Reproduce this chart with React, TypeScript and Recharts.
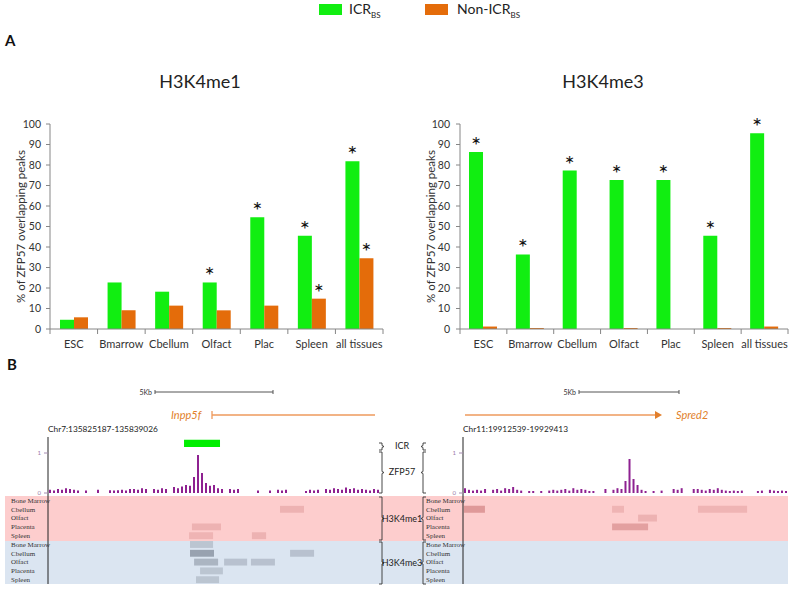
import React from 'react';
import { BarChart, Bar, XAxis, YAxis, LabelList, ComposedChart, ReferenceArea } from 'recharts';

// ---------- Panel A data ----------
const tissues = ['ESC', 'Bmarrow', 'Cbellum', 'Olfact', 'Plac', 'Spleen', 'all tissues'];
const me1Icr = [4.5, 22.7, 18.2, 22.7, 54.5, 45.5, 81.8];
const me1NonIcr = [5.7, 9.1, 11.4, 9.1, 11.4, 14.8, 34.5];
const me1IcrSig = [false, false, false, true, true, true, true];
const me1NonIcrSig = [false, false, false, false, false, true, true];
const me3Icr = [86.4, 36.4, 77.3, 72.7, 72.7, 45.5, 95.5];
const me3NonIcr = [1.2, 0.5, 0, 0.5, 0, 0.5, 1.2];
const me3IcrSig = [true, true, true, true, true, true, true];
const me3NonIcrSig = [false, false, false, false, false, false, false];
const pctTicks = [0, 10, 20, 30, 40, 50, 60, 70, 80, 90, 100];

// ---------- Panel B data ----------
const rowNames = ['Bone Marrow', 'Cbellum', 'Olfact', 'Placenta', 'Spleen'];
const leftRegion = 'Chr7:135825187-135839026';
const leftSpanKb = 13.839;
const rightRegion = 'Chr11:19912539-19929413';
const rightSpanKb = 16.874;

// ZFP57 ChIP signal, equal bins across the region
const leftSignal = [
  0.08, 0.06, 0.1, 0.08, 0.12, 0.1, 0.08, 0.06, 0, 0.06, 0, 0, 0.08, 0, 0, 0.07, 0.06, 0.07, 0.08, 0.06,
  0.1, 0.1, 0.08, 0.12, 0.1, 0, 0.1, 0.08, 0.12, 0.1, 0, 0.15, 0.12, 0.16, 0.2, 0.18, 0.4, 0.95, 0.5, 0.25,
  0.18, 0.2, 0.12, 0.1, 0, 0.1, 0.08, 0.1, 0, 0, 0, 0, 0.06, 0, 0, 0.06, 0, 0.08, 0.06, 0.08,
  0, 0, 0, 0, 0.05, 0.08, 0.06, 0.08, 0, 0.1, 0.08, 0.12, 0.1, 0.08, 0.14, 0.1, 0.12, 0.08, 0.1, 0.08,
  0.06, 0.1, 0.08,
];
const rightSignal = [
  0.12, 0.08, 0.06, 0.08, 0.06, 0.1, 0, 0.08, 0.1, 0.06, 0.12, 0.1, 0.15, 0.08, 0.06, 0, 0.05, 0.05, 0, 0.05,
  0, 0.06, 0.08, 0.06, 0.08, 0.1, 0.06, 0.12, 0.08, 0.1, 0.08, 0.05, 0.05, 0, 0, 0.1, 0, 0.08, 0.12, 0.1,
  0.3, 0.85, 0.35, 0.2, 0.08, 0.05, 0, 0.05, 0, 0.06, 0, 0, 0.1, 0.08, 0.12, 0, 0, 0.1, 0.1, 0.08,
  0.06, 0.1, 0.08, 0.12, 0.08, 0.06, 0.05, 0.06, 0.05, 0.06, 0, 0, 0, 0.05, 0.06, 0, 0.08, 0.06, 0.05, 0.06,
  0.05,
];
// ICR intervals (kb from region start)
const leftIcr = [[5.67, 7.17]];
const rightIcr: number[][] = [];
// Histone peak blocks: [row, startKb, endKb, score]; rows 0-4 H3K4me1, 5-9 H3K4me3
const leftBlocks = [
  [1, 9.67, 10.67, 0.35],
  [3, 6.0, 7.21, 0.35],
  [4, 5.88, 6.88, 0.3],
  [4, 8.5, 9.09, 0.35],
  [5, 5.92, 6.88, 0.3],
  [6, 5.92, 6.92, 0.85],
  [6, 10.09, 11.09, 0.35],
  [7, 6.09, 7.09, 0.55],
  [7, 7.34, 8.3, 0.35],
  [7, 8.46, 9.46, 0.35],
  [8, 6.34, 7.29, 0.3],
  [9, 6.17, 7.13, 0.3],
];
const rightBlocks = [
  [1, 0.05, 1.14, 0.85],
  [1, 7.74, 8.36, 0.3],
  [1, 12.2, 14.75, 0.3],
  [2, 9.09, 10.07, 0.35],
  [3, 7.74, 9.61, 0.7],
];

const FONT = 'Lato, "Open Sans", sans-serif';
const GREEN = '#11ee11';
const ORANGE = '#e46c0a';
const AXIS = '#868686';

// ---------- Panel A components ----------
const BandTick = (props: any) => {
  const { x, y, payload, index, visibleTicksCount, band } = props;
  const axisY = y - 13;
  const half = band / 2;
  return (
    <g>
      <line x1={x - half} x2={x - half} y1={axisY} y2={axisY + 5} stroke={AXIS} />
      {index === visibleTicksCount - 1 && (
        <line x1={x + half} x2={x + half} y1={axisY} y2={axisY + 5} stroke={AXIS} />
      )}
      <text x={x} y={axisY + 19} textAnchor="middle" fontSize={11} fill="#333" fontFamily={FONT}>
        {payload.value}
      </text>
    </g>
  );
};

const YTitle = (props: any) => {
  const { viewBox, cx } = props;
  const cy = viewBox.y + viewBox.height / 2;
  return (
    <text
      x={cx}
      y={cy}
      transform={`rotate(-90 ${cx} ${cy})`}
      textAnchor="middle"
      dominantBaseline="central"
      fontSize={11.5}
      fill="#333"
      fontFamily={FONT}
    >
      % of ZFP57 overlapping peaks
    </text>
  );
};

const makeStar = (sig: boolean[]) => (props: any) => {
  const { x, y, width, index } = props;
  if (!sig[index]) return null;
  return (
    <text x={x + width / 2} y={y + 2} textAnchor="middle" fontSize={24} fill="#111" fontFamily={FONT}>
      *
    </text>
  );
};

function PeakChart(p: {
  icr: number[]; non: number[]; icrSig: boolean[]; nonSig: boolean[];
  width: number; yW: number; right: number; tickMargin: number; titleX: number;
}) {
  const data = tissues.map((t, i) => ({ tissue: t, icr: p.icr[i], non: p.non[i] }));
  const plotW = p.width - p.yW - p.right;
  return (
    <BarChart
      width={p.width}
      height={260}
      data={data}
      margin={{ top: 24, right: p.right, bottom: 1, left: 0 }}
      barGap={0}
    >
      <XAxis
        dataKey="tissue"
        height={30}
        axisLine={{ stroke: AXIS }}
        tickLine={false}
        tickSize={5}
        tickMargin={8}
        interval={0}
        tick={(tp: any) => <BandTick {...tp} band={plotW / tissues.length} />}
      />
      <YAxis
        width={p.yW}
        domain={[0, 100]}
        ticks={pctTicks}
        interval={0}
        axisLine={{ stroke: AXIS }}
        tickLine={{ stroke: AXIS }}
        tickSize={4}
        tickMargin={p.tickMargin}
        tick={{ fontSize: 10.5, fill: '#333', fontFamily: FONT }}
        label={<YTitle cx={p.titleX} />}
      />
      <Bar dataKey="icr" name="ICR" fill={GREEN} barSize={14} isAnimationActive={false}>
        <LabelList dataKey="icr" content={makeStar(p.icrSig)} />
      </Bar>
      <Bar dataKey="non" name="Non-ICR" fill={ORANGE} barSize={14} isAnimationActive={false}>
        <LabelList dataKey="non" content={makeStar(p.nonSig)} />
      </Bar>
    </BarChart>
  );
}

// ---------- Panel B components ----------
function SignalTrack(p: { axisX: number; plotW: number; span: number; values: number[]; icr: number[][] }) {
  const binKb = p.span / p.values.length;
  const data = p.values.map((v, i) => ({ pos: (i + 0.5) * binKb, v }));
  const yW = 18;
  return (
    <div style={{ position: 'absolute', left: p.axisX - yW, top: 437 }}>
      <ComposedChart width={yW + p.plotW} height={59} data={data} margin={{ top: 0, right: 0, bottom: 0, left: 0 }}>
        <XAxis type="number" dataKey="pos" domain={[0, p.span]} hide allowDataOverflow />
        <YAxis
          type="number"
          domain={[-0.075, 1.4]}
          ticks={[0, 1]}
          interval={0}
          width={yW}
          allowDataOverflow
          axisLine={{ stroke: '#222' }}
          tickLine={{ stroke: '#a58cb0' }}
          tickSize={4}
          tickMargin={3}
          tick={{ fontSize: 6, fill: '#9a7aa8', fontFamily: FONT }}
        />
        {p.icr.map((r, i) => (
          <ReferenceArea key={i} x1={r[0]} x2={r[1]} y1={1.15} y2={1.33} fill="#00ee00" fillOpacity={1} stroke="none" />
        ))}
        <Bar dataKey="v" fill="#8e2191" barSize={2} isAnimationActive={false} />
      </ComposedChart>
    </div>
  );
}

const RowTick = (props: any) => {
  const { x, y, payload } = props;
  const idx = Math.floor(payload.value) % 5;
  return (
    <text x={x - 37} y={y} dy={2.4} fontSize={7} fill="#333" fontFamily='"Liberation Serif", serif'>
      {rowNames[idx]}
    </text>
  );
};

function Tracks(p: { axisX: number; plotW: number; span: number; blocks: number[][] }) {
  const yW = 40;
  const rowTicks = Array.from({ length: 10 }, (_, i) => i + 0.5);
  const data = rowTicks.map((r) => ({ x: 0, row: r }));
  return (
    <div style={{ position: 'absolute', left: p.axisX - yW, top: 496 }}>
      <ComposedChart width={yW + p.plotW} height={88} data={data} margin={{ top: 0, right: 0, bottom: 0, left: 0 }}>
        <XAxis type="number" dataKey="x" domain={[0, p.span]} hide allowDataOverflow />
        <YAxis
          type="number"
          dataKey="row"
          domain={[0, 10]}
          reversed
          ticks={rowTicks}
          interval={0}
          width={yW}
          allowDataOverflow
          axisLine={{ stroke: '#222' }}
          tickLine={false}
          tickSize={0}
          tickMargin={0}
          tick={<RowTick />}
        />
        {p.blocks.map((b, i) => {
          const me3 = b[0] >= 5;
          return (
            <ReferenceArea
              key={i}
              x1={b[1]}
              x2={b[2]}
              y1={b[0] + 0.12}
              y2={b[0] + 0.9}
              fill={me3 ? '#3c4656' : '#a02828'}
              fillOpacity={me3 ? 0.08 + 0.4 * b[3] : 0.06 + 0.3 * b[3]}
              stroke="none"
            />
          );
        })}
      </ComposedChart>
    </div>
  );
}

const leftBracket = (x: number, y0: number, y1: number) => {
  const m = (y0 + y1) / 2;
  return `M${x} ${y0} L${x + 3} ${y0} L${x + 3} ${m - 1} L${x + 5} ${m} L${x + 3} ${m + 1} L${x + 3} ${y1} L${x} ${y1}`;
};
const rightBracket = (x: number, y0: number, y1: number) => {
  const m = (y0 + y1) / 2;
  return `M${x + 5} ${y0} L${x + 2} ${y0} L${x + 2} ${m - 1} L${x} ${m} L${x + 2} ${m + 1} L${x + 2} ${y1} L${x + 5} ${y1}`;
};

export default function App() {
  const groups: [number, number][] = [[443, 450], [452, 493], [497, 540], [542, 584]];
  return (
    <div style={{ position: 'absolute', left: 0, top: 0, width: 796, height: 589, background: '#fff', fontFamily: FONT, overflow: 'hidden' }}>
      {/* Legend */}
      <div style={{ position: 'absolute', left: 319, top: 4, width: 23, height: 11, background: GREEN }} />
      <div style={{ position: 'absolute', left: 349, top: 0, fontSize: 14, color: '#222', lineHeight: '18px' }}>
        ICR<sub style={{ fontSize: 8 }}>BS</sub>
      </div>
      <div style={{ position: 'absolute', left: 425, top: 4, width: 23, height: 11, background: ORANGE }} />
      <div style={{ position: 'absolute', left: 457, top: 0, fontSize: 14, color: '#222', lineHeight: '18px' }}>
        Non-ICR<sub style={{ fontSize: 8 }}>BS</sub>
      </div>

      <div style={{ position: 'absolute', left: 5, top: 31, fontSize: 15, fontWeight: 700, color: '#111' }}>A</div>
      <div style={{ position: 'absolute', left: 7, top: 355, fontSize: 15, fontWeight: 700, color: '#111' }}>B</div>

      <div style={{ position: 'absolute', left: 100, width: 200, top: 70, textAlign: 'center', fontSize: 18, color: '#222' }}>H3K4me1</div>
      <div style={{ position: 'absolute', left: 503, width: 200, top: 70, textAlign: 'center', fontSize: 18, color: '#222' }}>H3K4me3</div>

      <div style={{ position: 'absolute', left: 0, top: 100 }}>
        <PeakChart icr={me1Icr} non={me1NonIcr} icrSig={me1IcrSig} nonSig={me1NonIcrSig} width={400} yW={50} right={17} tickMargin={5} titleX={20} />
      </div>
      <div style={{ position: 'absolute', left: 400, top: 100 }}>
        <PeakChart icr={me3Icr} non={me3NonIcr} icrSig={me3IcrSig} nonSig={me3NonIcrSig} width={396} yW={60} right={8} tickMargin={6} titleX={30} />
      </div>

      {/* Panel B backgrounds */}
      <div style={{ position: 'absolute', left: 5, top: 496, width: 783, height: 45, background: '#fdcdcd' }} />
      <div style={{ position: 'absolute', left: 5, top: 541, width: 783, height: 43, background: '#dbe5f1' }} />

      <SignalTrack axisX={48} plotW={332} span={leftSpanKb} values={leftSignal} icr={leftIcr} />
      <Tracks axisX={48} plotW={332} span={leftSpanKb} blocks={leftBlocks} />
      <SignalTrack axisX={463} plotW={325} span={rightSpanKb} values={rightSignal} icr={rightIcr} />
      <Tracks axisX={463} plotW={325} span={rightSpanKb} blocks={rightBlocks} />

      <svg width={796} height={589} style={{ position: 'absolute', left: 0, top: 0, pointerEvents: 'none' }}>
        {/* scale bars */}
        <text x={152} y={394.5} fontSize={7} textAnchor="end" fill="#333" fontFamily={FONT}>5Kb</text>
        <line x1={155} x2={273} y1={392} y2={392} stroke="#555" />
        <line x1={155} x2={155} y1={390} y2={394} stroke="#555" />
        <line x1={273} x2={273} y1={390} y2={394} stroke="#555" />
        <text x={576} y={394.5} fontSize={7} textAnchor="end" fill="#333" fontFamily={FONT}>5Kb</text>
        <line x1={579} x2={679} y1={392} y2={392} stroke="#555" />
        <line x1={579} x2={579} y1={390} y2={394} stroke="#555" />
        <line x1={679} x2={679} y1={390} y2={394} stroke="#555" />
        {/* genes */}
        <text x={171} y={419} fontSize={11} fontStyle="italic" fill="#e27f2c" fontFamily={FONT}>Inpp5f</text>
        <line x1={212} x2={375} y1={415} y2={415} stroke="#ee9a5c" strokeWidth={1.3} />
        <line x1={212} x2={212} y1={411} y2={419} stroke="#ee9a5c" strokeWidth={1.3} />
        <line x1={465} x2={658} y1={415} y2={415} stroke="#ee9a5c" strokeWidth={1.3} />
        <path d="M655 411 L662 415 L655 419 Z" fill="#e27f2c" />
        <text x={676} y={419} fontSize={11} fontStyle="italic" fill="#e27f2c" fontFamily={FONT}>Spred2</text>
        {/* region labels */}
        <text x={48} y={432} fontSize={8.3} fill="#222" fontFamily={FONT}>{leftRegion}</text>
        <text x={463} y={432} fontSize={8.3} fill="#222" fontFamily={FONT}>{rightRegion}</text>
        {/* brackets */}
        {groups.map((g, i) => (
          <g key={i}>
            <path d={leftBracket(379, g[0], g[1])} fill="none" stroke="#333" strokeWidth={0.9} />
            <path d={rightBracket(421, g[0], g[1])} fill="none" stroke="#333" strokeWidth={0.9} />
          </g>
        ))}
        <text x={402} y={449} fontSize={9} textAnchor="middle" fill="#222" fontFamily={FONT}>ICR</text>
        <text x={402} y={475} fontSize={9} textAnchor="middle" fill="#222" fontFamily={FONT}>ZFP57</text>
        <text x={402} y={522} fontSize={9} textAnchor="middle" fill="#222" fontFamily={FONT}>H3K4me1</text>
        <text x={402} y={566} fontSize={9} textAnchor="middle" fill="#222" fontFamily={FONT}>H3K4me3</text>
      </svg>
    </div>
  );
}
